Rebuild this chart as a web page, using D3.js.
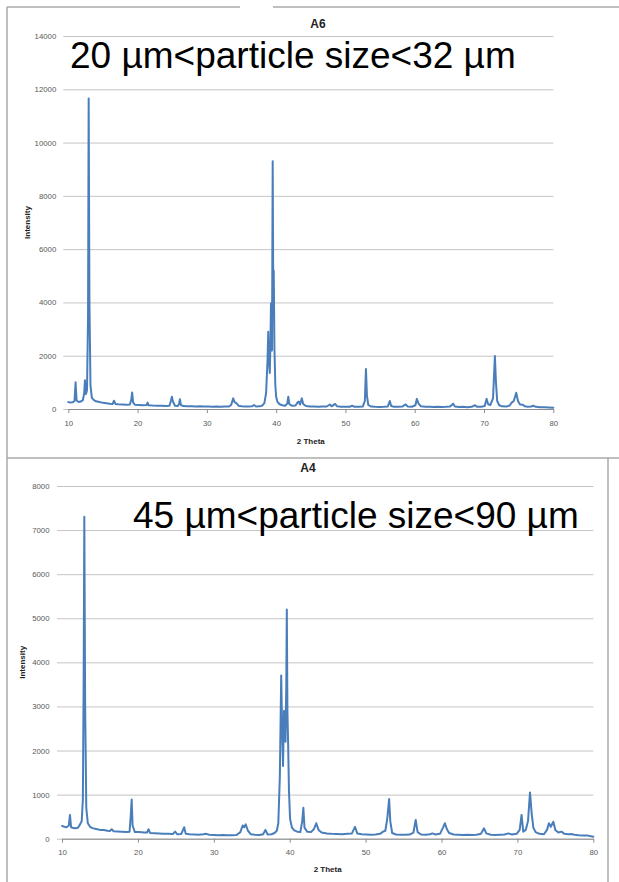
<!DOCTYPE html>
<html>
<head>
<meta charset="utf-8">
<script src="https://cdn.jsdelivr.net/npm/d3@7"></script>
<style>
html,body{margin:0;padding:0;background:#fff;}
svg{display:block;}
</style>
</head>
<body>
<script>
// ---------- DATA ----------
const titleA6 = "A6";
const titleA4 = "A4";
const noteA6 = "20 µm<particle size<32 µm";
const noteA4 = "45 µm<particle size<90 µm";
const xLabel = "2 Theta";
const yLabel = "Intensity";
const xTicks = [10, 20, 30, 40, 50, 60, 70, 80];
const yTicksA6 = [0, 2000, 4000, 6000, 8000, 10000, 12000, 14000];
const yTicksA4 = [0, 1000, 2000, 3000, 4000, 5000, 6000, 7000, 8000];

const thetaA6 = [10.0,10.3,10.6,10.9,11.05,11.2,11.5,11.8,12.1,12.3,12.4,12.55,12.7,12.85,12.94,13.05,13.2,13.4,13.7,14.0,14.5,15.0,15.5,16.0,16.4,16.6,16.8,17.2,17.8,18.4,18.9,19.1,19.22,19.35,19.6,20.2,20.8,21.3,21.45,21.6,22.2,22.8,23.4,24.0,24.6,24.8,24.95,25.1,25.4,25.8,26.0,26.1,26.25,26.6,27.2,27.8,28.4,29.0,29.6,30.2,30.8,31.4,32.0,32.6,33.2,33.5,33.8,34.0,34.3,34.6,35.0,35.5,36.0,36.5,36.8,37.1,37.6,38.0,38.3,38.55,38.75,38.86,38.95,39.08,39.18,39.25,39.33,39.4,39.5,39.58,39.65,39.75,39.88,40.0,40.2,40.5,40.9,41.3,41.6,41.75,41.9,42.3,42.8,43.1,43.25,43.45,43.7,43.9,44.3,44.9,45.5,46.1,46.7,47.3,47.75,48.0,48.5,48.8,49.4,50.0,50.6,51.0,51.3,51.9,52.5,52.8,52.96,53.1,53.3,53.7,54.3,54.9,55.5,56.1,56.4,56.6,57.0,57.6,58.2,58.7,59.0,59.6,60.1,60.3,60.55,60.9,61.5,62.1,62.7,63.3,63.9,64.5,65.1,65.55,65.8,66.4,67.0,67.6,68.2,68.7,69.0,69.6,70.1,70.37,70.6,70.9,71.3,71.57,71.72,71.9,72.2,72.6,73.2,73.7,74.03,74.3,74.65,74.9,75.2,75.6,75.9,76.3,76.8,77.1,77.5,78.1,78.7,79.3,80.0];
const intA6 = [260,240,250,300,1000,320,260,280,330,600,1080,560,700,3500,11650,4000,900,420,330,290,260,230,220,200,190,310,190,180,170,160,165,380,620,250,160,150,140,150,240,140,130,125,120,115,125,300,460,280,120,110,200,370,150,110,100,105,95,100,90,95,85,90,85,90,95,150,400,260,210,120,100,90,95,100,150,95,100,130,220,600,1800,2900,1900,1350,2500,3960,2600,2200,9300,4500,5200,2300,900,450,260,180,140,120,200,460,180,120,130,250,280,170,400,190,110,95,90,85,90,95,170,100,190,100,85,80,85,120,85,80,90,300,1500,500,150,90,80,75,80,90,300,110,85,80,90,170,90,85,140,380,200,100,85,80,75,80,75,80,90,200,95,75,80,70,80,140,80,85,110,380,180,150,400,1990,1020,300,140,100,90,130,250,300,610,300,170,160,100,85,95,120,80,70,65,60,50];

const thetaA4 = [10.0,10.3,10.6,10.9,11.05,11.2,11.5,11.8,12.1,12.4,12.6,12.75,12.85,12.94,13.05,13.2,13.4,13.7,14.0,14.5,15.0,15.5,16.0,16.3,16.55,16.8,17.3,17.9,18.5,18.9,19.05,19.18,19.3,19.6,20.2,20.8,21.2,21.4,21.6,22.2,22.8,23.4,24.0,24.6,24.9,25.2,25.7,26.1,26.3,26.8,27.4,28.0,28.6,29.0,29.4,30.0,30.6,31.2,31.8,32.4,33.0,33.5,33.8,34.0,34.2,34.5,34.9,35.4,36.0,36.5,36.8,37.1,37.6,38.0,38.3,38.5,38.7,38.88,39.0,39.12,39.25,39.35,39.45,39.55,39.62,39.7,39.8,39.9,40.05,40.3,40.6,41.0,41.4,41.65,41.8,41.95,42.3,42.8,43.2,43.5,43.8,44.2,44.9,45.5,46.2,46.9,47.6,48.2,48.6,48.9,49.5,50.1,50.7,51.3,51.9,52.3,52.6,52.85,53.1,53.25,53.5,54.0,54.6,55.2,55.8,56.3,56.6,56.85,57.3,57.9,58.5,58.8,59.2,59.8,60.2,60.45,60.7,61.0,61.6,62.2,62.8,63.4,64.0,64.6,65.2,65.6,65.9,66.5,67.1,67.7,68.3,68.8,69.3,69.9,70.3,70.55,70.77,71.1,71.4,71.66,71.88,72.1,72.4,72.9,73.5,73.9,74.15,74.4,74.73,75.0,75.4,75.8,76.2,76.7,77.1,77.5,78.1,78.7,79.3,80.0];
const intA4 = [290,270,260,300,540,260,240,235,250,330,400,900,3500,7300,3000,700,350,270,240,220,200,195,180,175,215,170,165,160,150,160,500,890,300,150,150,140,140,215,130,125,120,115,110,105,160,100,105,260,110,100,95,90,100,110,90,85,80,85,80,80,85,150,300,260,325,180,100,90,85,100,200,95,100,130,180,350,1400,3700,2500,1650,2900,2850,2200,3500,5200,2900,2100,1100,450,250,190,160,150,400,700,250,160,150,220,350,200,140,120,110,105,100,110,120,270,120,100,95,90,95,110,160,180,450,900,400,130,95,90,90,95,140,425,150,95,90,100,120,95,110,250,350,220,130,95,90,85,90,85,90,110,235,120,90,85,90,95,120,95,110,200,540,160,200,400,1050,575,250,150,110,100,200,350,270,385,200,140,160,110,100,105,90,80,75,70,45];

// ---------- DRAW ----------
const W = 619, H = 882;
const svg = d3.select("body").append("svg").attr("width", W).attr("height", H)
  .style("font-family", "'Liberation Sans', Arial, sans-serif");
svg.append("rect").attr("width", W).attr("height", H).attr("fill", "#fff");

const frameColor = "#aaaaaa";
const frame = svg.append("g").attr("stroke", frameColor).attr("stroke-width", 1.5).attr("fill", "none");
frame.append("line").attr("x1", 7).attr("y1", 7).attr("x2", 240).attr("y2", 7);
frame.append("line").attr("x1", 273).attr("y1", 7).attr("x2", W).attr("y2", 7);
frame.append("line").attr("x1", 7).attr("y1", 7).attr("x2", 7).attr("y2", H);
frame.append("line").attr("x1", 7).attr("y1", 458).attr("x2", W).attr("y2", 458);
frame.append("line").attr("x1", 608).attr("y1", 458).attr("x2", 608).attr("y2", H);

function panel(cfg) {
  const x = d3.scaleLinear().domain([10, 80]).range([cfg.x0, cfg.x1]);
  const y = d3.scaleLinear().domain([0, cfg.ymax]).range([cfg.y0, cfg.y1]);
  const g = svg.append("g");

  const ya = g.append("g").attr("transform", `translate(${cfg.x0 - 5},0)`)
    .call(d3.axisLeft(y).tickValues(cfg.yTicks).tickSizeInner(-(cfg.x1 - cfg.x0 + 5)).tickSizeOuter(0)
      .tickPadding(cfg.yPad).tickFormat(d3.format("d")));
  ya.select(".domain").remove();
  ya.selectAll(".tick line").attr("stroke", "#c4c4c4").attr("stroke-width", 1);
  ya.selectAll(".tick text").attr("fill", "#595959").style("font-size", "7.8px")
    .style("font-family", "'Liberation Sans', Arial, sans-serif");

  const xa = g.append("g").attr("transform", `translate(0,${cfg.y0})`)
    .call(d3.axisBottom(x).tickValues(xTicks).tickSizeInner(4).tickSizeOuter(0).tickPadding(7));
  xa.select(".domain").attr("stroke", "#8c8c8c");
  xa.selectAll(".tick line").attr("stroke", "#8c8c8c");
  xa.selectAll(".tick text").attr("fill", "#595959").style("font-size", "7.8px")
    .style("font-family", "'Liberation Sans', Arial, sans-serif");

  const pts = cfg.theta.map((t, i) => [t, cfg.vals[i]]);
  g.append("path").datum(pts)
    .attr("fill", "none").attr("stroke", "#4a7ebb").attr("stroke-width", 2)
    .attr("stroke-linejoin", "round").attr("stroke-linecap", "round")
    .attr("d", d3.line().x(d => x(d[0])).y(d => y(d[1])));

  g.append("text").attr("x", cfg.titleX).attr("y", cfg.titleY).attr("text-anchor", "middle")
    .attr("font-weight", "bold").attr("font-size", 12).attr("fill", "#222").text(cfg.title);
  g.append("text").attr("x", (cfg.x0 + cfg.x1) / 2).attr("y", cfg.xLabY).attr("text-anchor", "middle")
    .attr("font-weight", "bold").attr("font-size", 8).attr("fill", "#222").text(xLabel);
  g.append("text").attr("transform", `translate(${cfg.yLabX},${(cfg.y0 + cfg.y1) / 2}) rotate(-90)`)
    .attr("text-anchor", "middle").attr("font-weight", "bold").attr("font-size", 8).attr("fill", "#222").text(yLabel);
  g.append("text").attr("x", cfg.noteX).attr("y", cfg.noteY).attr("font-size", 37).attr("fill", "#000").text(cfg.note);
}

panel({
  x0: 68.3, x1: 553.3, y0: 409, y1: 36, ymax: 14000, yTicks: yTicksA6, yPad: 7,
  theta: thetaA6, vals: intA6, title: titleA6, titleX: 318, titleY: 28,
  xLabY: 444, yLabX: 30, note: noteA6, noteX: 70, noteY: 68
});
panel({
  x0: 62, x1: 593.3, y0: 838.7, y1: 486, ymax: 8000, yTicks: yTicksA4, yPad: 7.5,
  theta: thetaA4, vals: intA4, title: titleA4, titleX: 308, titleY: 472,
  xLabY: 872, yLabX: 25, note: noteA4, noteX: 133, noteY: 527.7
});
</script>
</body>
</html>
